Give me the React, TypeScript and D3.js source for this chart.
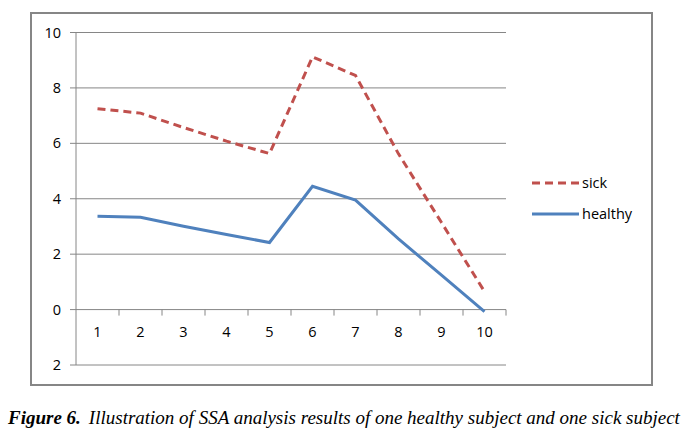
import React from "react";
import * as d3 from "d3";

const categories = ["1", "2", "3", "4", "5", "6", "7", "8", "9", "10"];
const sick = [7.25, 7.09, 6.57, 6.08, 5.63, 9.12, 8.45, 5.62, 3.14, 0.65];
const healthy = [3.37, 3.33, 3.01, 2.71, 2.42, 4.45, 3.95, 2.55, 1.24, -0.07];
const yTickValues = [10, 8, 6, 4, 2, 0, -2];
const yTickLabels = ["10", "8", "6", "4", "2", "0", "2"];
const seriesNames = ["sick", "healthy"];
const caption = "Illustration of SSA analysis results of one healthy subject and one sick subject";

export default function App() {
  const W = 688, H = 432;
  const left = 76, right = 506, top = 32.5, bottom = 365;
  const y = d3.scaleLinear().domain([-2, 10]).range([bottom, top]);
  const x = d3.scaleBand().domain(categories).range([left, right]).padding(0);
  const cx = (i: number) => (x(categories[i]) as number) + x.bandwidth() / 2;
  const line = d3.line<number>().x((_, i) => cx(i)).y((d) => y(d));
  const grid = "#868686";
  const font = "'Open Sans', 'Liberation Sans', sans-serif";
  const y0 = y(0);
  return (
    <svg width={W} height={H} style={{ position: "absolute", left: 0, top: 0, background: "#fff" }}>
      <rect x={31} y={13} width={621} height={372} fill="none" stroke={grid} strokeWidth={2} />
      {yTickValues.map((v, i) => (
        <g key={i}>
          <line x1={70} x2={right} y1={y(v)} y2={y(v)} stroke={grid} strokeWidth={1} />
          <text x={61} y={y(v)} dy="0.35em" textAnchor="end" fontFamily={font} fontSize={14.5} fill="#000">
            {yTickLabels[i]}
          </text>
        </g>
      ))}
      <line x1={left} x2={left} y1={top} y2={bottom} stroke={grid} strokeWidth={1} />
      {categories.map((c, i) => (
        <g key={c}>
          <line
            x1={(x(c) as number) + x.bandwidth()}
            x2={(x(c) as number) + x.bandwidth()}
            y1={y0}
            y2={y0 + 6}
            stroke={grid}
            strokeWidth={1}
          />
          <text x={cx(i)} y={y0 + 22} dy="0.35em" textAnchor="middle" fontFamily={font} fontSize={14.5} fill="#000">
            {c}
          </text>
        </g>
      ))}
      <path d={line(sick) || ""} fill="none" stroke="#C0504D" strokeWidth={3} strokeDasharray="8,5" />
      <path d={line(healthy) || ""} fill="none" stroke="#4F81BD" strokeWidth={3} />
      <line x1={532} x2={579} y1={183} y2={183} stroke="#C0504D" strokeWidth={3} strokeDasharray="8,5" />
      <text x={582} y={183} dy="0.35em" fontFamily={font} fontSize={14.5} fill="#000">{seriesNames[0]}</text>
      <line x1={532} x2={579} y1={214} y2={214} stroke="#4F81BD" strokeWidth={3} />
      <text x={582} y={214} dy="0.35em" fontFamily={font} fontSize={14.5} fill="#000">{seriesNames[1]}</text>
      <text x={8} y={424} fontFamily="'Liberation Serif', 'Times New Roman', serif" fontSize={19} fontStyle="italic" fill="#000">
        <tspan fontWeight="bold">Figure 6.</tspan>
        <tspan dx={8}>{caption}</tspan>
      </text>
    </svg>
  );
}
